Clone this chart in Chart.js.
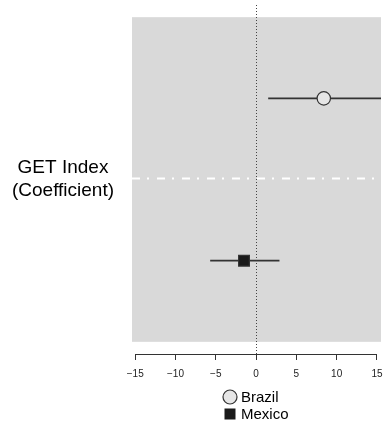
<!DOCTYPE html>
<html>
<head>
<meta charset="utf-8">
<script src="https://cdn.jsdelivr.net/npm/chart.js@4/dist/chart.umd.min.js"></script>
<style>
  html, body { margin: 0; padding: 0; background: #fff; overflow: hidden; }
  #c { display: block; }
</style>
</head>
<body>
<canvas id="c" width="383" height="422"></canvas>
<script>
// coefficient plot data
var countries = ['Brazil', 'Mexico'];
var estimates = [8.4, -1.5];
var lower = [1.5, -5.7];
var upper = [15.8, 2.9];
var rows = [1, 3];           // vertical slot of each country
var divider = 2;             // dash-dot separator between slots
var tickValues = [-15, -10, -5, 0, 5, 10, 15];
var yLabel = ['GET Index', '(Coefficient)'];

var markerStyle = [
    { pointStyle: 'circle', radius: 6.7, fill: '#e6e6e6' },
    { pointStyle: 'rect', radius: 7.6, fill: '#1a1a1a' }
];

var FONT = '"Liberation Sans", Arial, sans-serif';
var INK = '#333333';

var datasets = [];
for (var i = 0; i < countries.length; i++) {
    datasets.push({
        type: 'scatter',
        label: countries[i],
        data: [{ x: estimates[i], y: rows[i] }],
        pointStyle: markerStyle[i].pointStyle,
        pointRadius: markerStyle[i].radius,
        pointHoverRadius: markerStyle[i].radius,
        backgroundColor: markerStyle[i].fill,
        borderColor: INK,
        borderWidth: 1.2,
        order: 0
    });
    // confidence interval whisker
    datasets.push({
        type: 'line',
        label: countries[i] + ' CI',
        data: [{ x: lower[i], y: rows[i] }, { x: upper[i], y: rows[i] }],
        borderColor: INK,
        borderWidth: 1.6,
        pointRadius: 0,
        fill: false,
        order: 1
    });
}

// gray panel, separator and zero line behind the marks
var panelPlugin = {
    id: 'panel',
    beforeDatasetsDraw: function (chart) {
        var ctx = chart.ctx, a = chart.chartArea;
        var xs = chart.scales.x, ys = chart.scales.y;
        var top = ys.getPixelForValue(0), bottom = ys.getPixelForValue(4);
        ctx.save();
        ctx.fillStyle = '#d9d9d9';
        ctx.fillRect(a.left, top, a.right - a.left, bottom - top);

        var yd = Math.round(ys.getPixelForValue(divider)) - 0.5;
        ctx.strokeStyle = '#ffffff';
        ctx.lineWidth = 2;
        ctx.setLineDash([8, 7, 2, 8]);
        ctx.beginPath();
        ctx.moveTo(a.left, yd);
        ctx.lineTo(a.right, yd);
        ctx.stroke();

        var x0 = Math.round(xs.getPixelForValue(0)) + 0.5;
        ctx.strokeStyle = '#444444';
        ctx.lineWidth = 1;
        ctx.setLineDash([1, 2]);
        ctx.beginPath();
        ctx.moveTo(x0, a.top);
        ctx.lineTo(x0, a.bottom);
        ctx.stroke();
        ctx.restore();
    },
    afterDraw: function (chart) {
        var ctx = chart.ctx, a = chart.chartArea, xs = chart.scales.x;
        ctx.save();
        // axis line only spans the tick range
        ctx.strokeStyle = INK;
        ctx.lineWidth = 1;
        ctx.beginPath();
        ctx.moveTo(xs.getPixelForValue(tickValues[0]), a.bottom + 0.5);
        ctx.lineTo(xs.getPixelForValue(tickValues[tickValues.length - 1]), a.bottom + 0.5);
        ctx.stroke();

        // left label
        ctx.fillStyle = '#000';
        ctx.font = '19px ' + FONT;
        ctx.textAlign = 'center';
        ctx.textBaseline = 'middle';
        ctx.fillText(yLabel[0], 63, 168);
        ctx.fillText(yLabel[1], 63, 191);

        // legend
        var lx = 230, ly = [397, 414];
        ctx.font = '15px ' + FONT;
        ctx.textAlign = 'left';
        for (var i = 0; i < countries.length; i++) {
            var ds = chart.data.datasets[i * 2];
            ctx.fillStyle = ds.backgroundColor;
            ctx.strokeStyle = INK;
            ctx.lineWidth = 1.2;
            if (ds.pointStyle === 'circle') {
                ctx.beginPath();
                ctx.arc(lx, ly[i], 7, 0, Math.PI * 2);
                ctx.fill();
                ctx.stroke();
            } else {
                ctx.fillRect(lx - 5.5, ly[i] - 5.5, 11, 11);
            }
            ctx.fillStyle = '#000';
            ctx.fillText(ds.label, lx + 11, ly[i] + 1);
        }
        ctx.restore();
    }
};

new Chart(document.getElementById('c'), {
    data: { datasets: datasets },
    options: {
        responsive: false,
        animation: false,
        layout: { autoPadding: false, padding: { left: 132, right: 2, top: 5, bottom: 0 } },
        plugins: { legend: { display: false }, tooltip: { enabled: false } },
        scales: {
            x: {
                type: 'linear',
                min: -15.4,
                max: 15.5,
                afterBuildTicks: function (s) {
                    s.ticks = tickValues.map(function (v) { return { value: v }; });
                },
                afterFit: function (s) {
                    s.height = 68;
                    // end labels sit inside the range, no extra side padding needed
                    s.paddingLeft = 0;
                    s.paddingRight = 0;
                },
                border: { display: false },
                grid: { drawOnChartArea: false, drawTicks: true, tickLength: 6, color: INK },
                ticks: {
                    padding: 8,
                    maxRotation: 0,
                    color: '#222',
                    font: { family: FONT, size: 10 },
                    callback: function (v) { return v < 0 ? '\u2212' + Math.abs(v) : String(v); }
                }
            },
            y: {
                type: 'linear',
                display: false,
                reverse: true,
                min: -0.15,
                max: 4.15
            }
        }
    },
    plugins: [panelPlugin]
});
</script>
</body>
</html>
